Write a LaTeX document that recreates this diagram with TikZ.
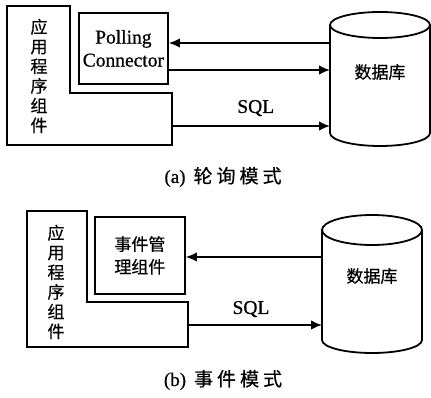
\documentclass[tikz,border=0pt]{standalone}
\usepackage{fontspec}
\setmainfont{Liberation Serif}[FakeBold=0.7]
\newfontfamily\cjk{Noto Sans CJK SC}[FakeBold=0.5]
\usetikzlibrary{arrows.meta}

\begin{document}
\begin{tikzpicture}[x=1pt,y=-1pt,
  line width=1.8pt,
  box/.style={draw, line width=1.8pt, inner sep=0pt, align=center},
  arr/.style={-{Latex[length=11pt,width=9.5pt]}, line width=1.8pt},
  lbl/.style={font=\fontsize{19.5}{24}\selectfont, inner sep=0pt},
  zh/.style={font=\cjk\fontsize{17}{19.7}\selectfont, align=center, inner sep=0pt},
  captxt/.style={font=\fontsize{19}{20}\selectfont, inner sep=0pt},
]
\useasboundingbox (0,0) rectangle (431,398);

% ---------------- (a) polling mode ----------------
% L-shaped application component
\draw (7,6) -- (70,6) -- (70,93) -- (172,93) -- (172,145) -- (7,145) -- cycle;
\node[zh] (appA) at (39,76) {应\\用\\程\\序\\组\\件};
\coordinate (appAr) at (172,126);

% polling connector
\node[box, lbl, minimum width=89pt, minimum height=71pt, anchor=north west]
  (pollA) at (78,12) {Polling\\[-1pt]Connector};

% database cylinder
\draw (330,25) -- (330,133) arc[start angle=180, end angle=0, x radius=50, y radius=13] -- (430,25);
\draw (380,25) ellipse[x radius=50, y radius=13];
\node[zh] (dbA) at (380,72) {数据库};
\coordinate (dbA1) at (330,43);
\coordinate (dbA2) at (330,70);
\coordinate (dbA3) at (330,126);

\draw[arr] (dbA1) -- (pollA.east |- dbA1);
\draw[arr] (pollA.east |- dbA2) -- (dbA2);
\draw[arr] (appAr) -- node[lbl, pos=0.53, above=9pt] (sqlA) {SQL} (dbA3);

\node[captxt] (capA) at (223,177) {(a)\hspace{8pt}{\cjk\fontsize{19}{20}\selectfont 轮\hspace{4pt}询\hspace{4pt}模\hspace{4pt}式}};

% ---------------- (b) event mode ----------------
\draw (27,211) -- (87,211) -- (87,302) -- (188,302) -- (188,347) -- (27,347) -- cycle;
\node[zh] (appB) at (56,282) {应\\用\\程\\序\\组\\件};
\coordinate (appBr) at (188,325);

% event management component
\node[box, zh, minimum width=90pt, minimum height=77pt, anchor=north west]
  (evtB) at (94,216) {事件管\\[3pt]理组件};

% database cylinder
\draw (322,230) -- (322,340) arc[start angle=180, end angle=0, x radius=50, y radius=13] -- (422,230);
\draw (372,230) ellipse[x radius=50, y radius=15];
\node[zh] (dbB) at (372,276) {数据库};
\coordinate (dbB1) at (322,257);
\coordinate (dbB2) at (322,325);

\draw[arr] (dbB1) -- (evtB.east |- dbB1);
\draw[arr] (appBr) -- node[lbl, pos=0.47, above=7pt] (sqlB) {SQL} (dbB2);

\node[captxt] (capB) at (223,380) {(b)\hspace{8pt}{\cjk\fontsize{19}{20}\selectfont 事\hspace{4pt}件\hspace{4pt}模\hspace{4pt}式}};
\end{tikzpicture}
\end{document}
